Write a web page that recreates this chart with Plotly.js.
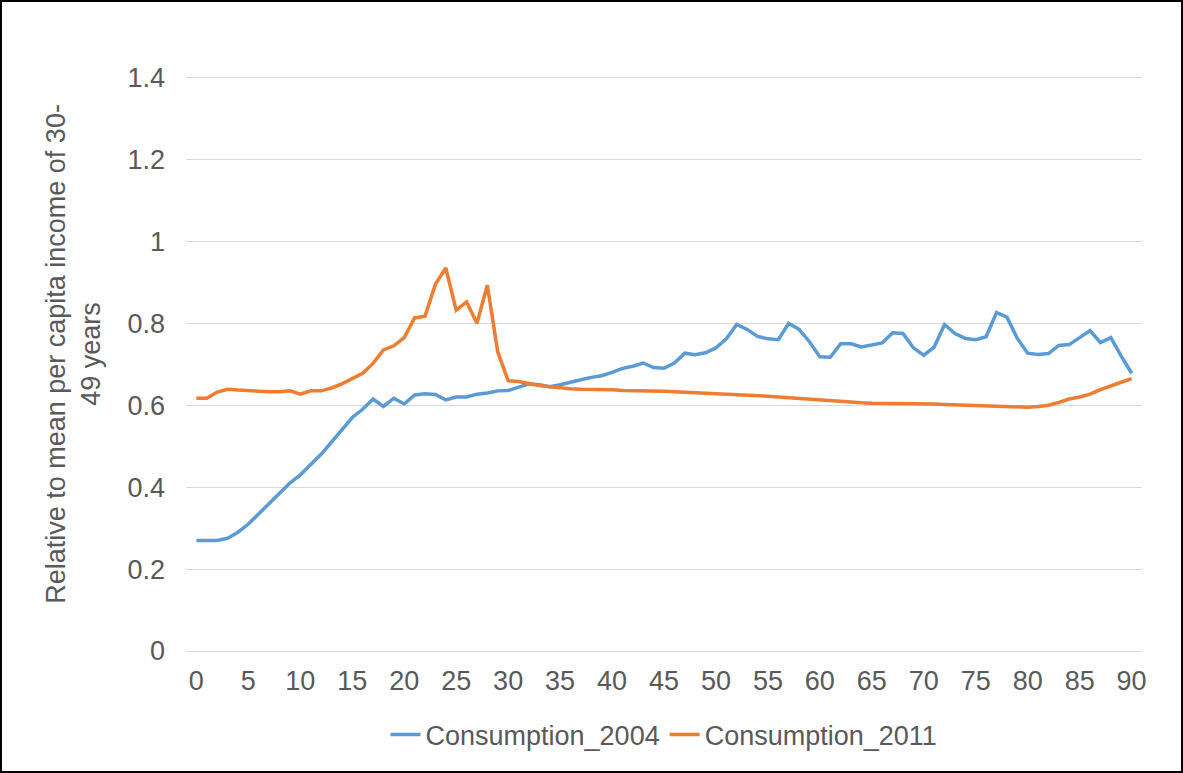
<!DOCTYPE html>
<html>
<head>
<meta charset="utf-8">
<script src="https://cdn.plot.ly/plotly-3.0.1.min.js"></script>
<style>
  html, body { margin: 0; padding: 0; background: #fff; }
  #chart { width: 1183px; height: 773px; box-sizing: border-box; border: 2px solid #000; }
</style>
</head>
<body>
<div id="chart"></div>
<script>
// Ages 0-90 and the two consumption profiles
const ages = Array.from({ length: 91 }, (_, i) => i)

const consumption2004 = [
  0.27, 0.27, 0.27, 0.275, 0.29, 0.31, 0.335, 0.36, 0.385, 0.41,
  0.43, 0.455, 0.48, 0.51, 0.54, 0.57, 0.59, 0.615, 0.597, 0.617,
  0.603, 0.625, 0.628, 0.626, 0.613, 0.62, 0.62, 0.627, 0.63, 0.635,
  0.636, 0.643, 0.652, 0.65, 0.645, 0.65, 0.655, 0.662, 0.668, 0.672,
  0.68, 0.69, 0.695, 0.703, 0.692, 0.69, 0.703, 0.727, 0.723, 0.728,
  0.74, 0.762, 0.797, 0.785, 0.768, 0.762, 0.76, 0.8, 0.785, 0.755,
  0.718, 0.717, 0.75, 0.75, 0.742, 0.748, 0.752, 0.777, 0.775, 0.74,
  0.722, 0.742, 0.797, 0.775, 0.763, 0.76, 0.767, 0.826, 0.815, 0.763,
  0.727, 0.724, 0.726, 0.746, 0.748, 0.765, 0.782, 0.753, 0.765, 0.72,
  0.678
]

const consumption2011 = [
  0.617, 0.617, 0.632, 0.639, 0.637, 0.635, 0.635, 0.633, 0.633, 0.635,
  0.627, 0.635, 0.635, 0.642, 0.652, 0.665, 0.678, 0.702, 0.735, 0.745,
  0.765, 0.813, 0.817, 0.895, 0.935, 0.832, 0.852, 0.8, 0.893, 0.73,
  0.66, 0.658, 0.652, 0.648, 0.645, 0.642, 0.64, 0.639, 0.639, 0.638,
  0.638, 0.636, 0.636, 0.635, 0.634, 0.634, 0.633, 0.632, 0.631, 0.63,
  0.629, 0.627, 0.626, 0.625, 0.623, 0.622, 0.62, 0.618, 0.617, 0.615,
  0.612, 0.611, 0.609, 0.607, 0.606, 0.605, 0.605, 0.605, 0.604, 0.604,
  0.604, 0.603, 0.602, 0.601, 0.6, 0.6, 0.599, 0.598, 0.598, 0.596,
  0.595, 0.597, 0.6, 0.607, 0.615, 0.62, 0.627, 0.638, 0.648, 0.656,
  0.665
]

const xTicks = Array.from({ length: 19 }, (_, i) => i * 5)

const traces = [
  { x: ages, y: consumption2004, name: "Consumption_2004", type: "scatter", mode: "lines",
    line: { color: "#5b9bd5", width: 3.5 } },
  { x: ages, y: consumption2011, name: "Consumption_2011", type: "scatter", mode: "lines",
    line: { color: "#ed7d31", width: 3.5 } }
]

Plotly.newPlot("chart", traces, {
  width: 1179, height: 769,
  paper_bgcolor: "#fff", plot_bgcolor: "#fff",
  font: { family: "Liberation Sans, Arial, sans-serif", size: 27, color: "#595959" },
  margin: { l: 184, r: 39, t: 55, b: 98 },
  xaxis: {
    range: [-1, 91], tickvals: xTicks, showgrid: false, zeroline: false,
    showline: true, linecolor: "#d9d9d9", ticks: "", ticklabelstandoff: 6,
    tickfont: { size: 27, color: "#595959" }
  },
  yaxis: {
    range: [0, 1.45], tickvals: [0, 0.2, 0.4, 0.6, 0.8, 1, 1.2, 1.4],
    ticktext: ["0", "0.2", "0.4", "0.6", "0.8", "1", "1.2", "1.4"],
    gridcolor: "#d9d9d9", zeroline: false, ticks: "", ticklabelstandoff: 20,
    tickfont: { size: 27, color: "#595959" },
    title: { text: "Relative to mean per capita income of 30-<br>49 years", font: { size: 27, color: "#595959" }, standoff: 18 }
  },
  legend: { orientation: "h", x: 0.5, xanchor: "center", y: -0.1, yanchor: "top", font: { size: 27, color: "#595959" } },
  showlegend: true
}, { displayModeBar: false })
</script>
</body>
</html>
